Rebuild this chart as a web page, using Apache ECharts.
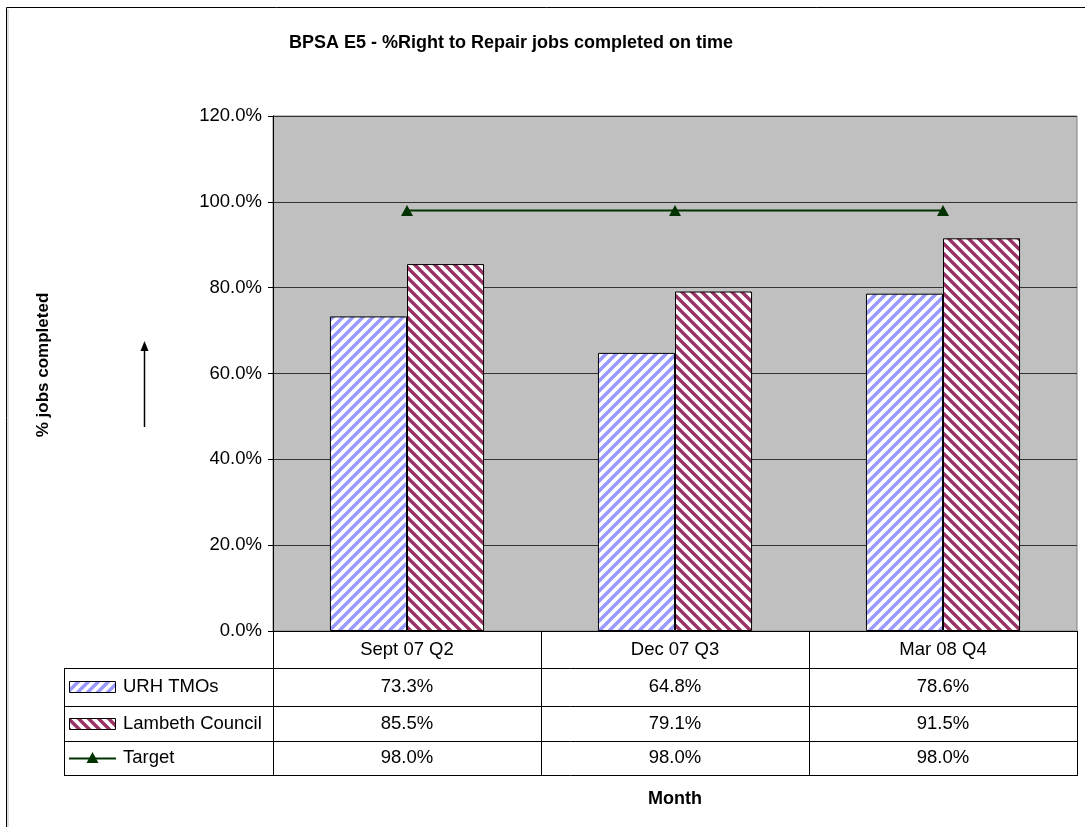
<!DOCTYPE html>
<html>
<head>
<meta charset="utf-8">
<script src="https://cdn.jsdelivr.net/npm/echarts@6/dist/echarts.min.js"></script>
<style>
html,body{margin:0;padding:0;background:#fff;}
#chart{width:1085px;height:827px;}
</style>
</head>
<body>
<div id="chart"></div>
<script>
// ---- data ----
const categories = ['Sept 07 Q2', 'Dec 07 Q3', 'Mar 08 Q4'];
const urhTMOs = [73.3, 64.8, 78.6];
const lambethCouncil = [85.5, 79.1, 91.5];
const target = [98.0, 98.0, 98.0];
const seriesNames = ['URH TMOs', 'Lambeth Council', 'Target'];
const yMin = 0, yMax = 120, yStep = 20;
const titleText = 'BPSA E5 - %Right to Repair jobs completed on time';
const yAxisTitle = '% jobs completed';
const xAxisTitle = 'Month';

// ---- layout ----
const W = 1085, H = 827;
const gLeft = 273, gTop = 116, gRight = 1077, gBottom = 631;
const tableLeft = 64;
const rowLines = [631, 668, 706, 741, 775];
const FONT = '"Liberation Sans", Arial, sans-serif';
const FS = 18.5;

function makePattern(color, dir) {
  const s = 10;
  const c = document.createElement('canvas');
  c.width = s; c.height = s;
  const ctx = c.getContext('2d');
  ctx.fillStyle = '#ffffff';
  ctx.fillRect(0, 0, s, s);
  ctx.strokeStyle = color;
  ctx.lineWidth = 3.4;
  ctx.beginPath();
  for (let k = -s; k <= s; k += s) {
    if (dir === 'up') {
      ctx.moveTo(k - 1, s + 1); ctx.lineTo(k + s + 1, -1);
    } else {
      ctx.moveTo(k - 1, -1); ctx.lineTo(k + s + 1, s + 1);
    }
  }
  ctx.stroke();
  return { image: c, repeat: 'repeat' };
}
const bluePat = makePattern('#9999ff', 'up');
const redPat = makePattern('#993366', 'down');
const greenDark = '#003300';

const chart = echarts.init(document.getElementById('chart'), null, { renderer: 'canvas' });
const fmt = v => v.toFixed(1) + '%';

const graphics = [];
const n = categories.length;
const colW = (gRight - gLeft) / n;
// outer frame
graphics.push({ type: 'polyline', shape: { points: [[6.5, H + 5], [6.5, 7.5], [W + 5, 7.5]] }, style: { stroke: '#000', lineWidth: 1, fill: null } });
graphics.push({ type: 'line', shape: { x1: 8, y1: 9, x2: 8, y2: H + 5 }, style: { stroke: '#bbb', lineWidth: 1 } });
// horizontal table lines
for (let i = 1; i < rowLines.length; i++) {
  graphics.push({ type: 'line', shape: { x1: tableLeft, y1: rowLines[i] + 0.5, x2: gRight + 0.5, y2: rowLines[i] + 0.5 }, style: { stroke: '#000', lineWidth: 1 } });
}
// vertical table lines
graphics.push({ type: 'line', shape: { x1: tableLeft + 0.5, y1: rowLines[1], x2: tableLeft + 0.5, y2: rowLines[4] + 1 }, style: { stroke: '#000', lineWidth: 1 } });
for (let j = 0; j <= n; j++) {
  const x = Math.round(gLeft + j * colW) + 0.5;
  graphics.push({ type: 'line', shape: { x1: x, y1: gBottom, x2: x, y2: rowLines[4] + 1 }, style: { stroke: '#000', lineWidth: 1 } });
}
// values in table
const rows = [urhTMOs, lambethCouncil, target];
rows.forEach((arr, r) => {
  const cy = (rowLines[r + 1] + rowLines[r + 2]) / 2;
  arr.forEach((v, j) => {
    graphics.push({ type: 'text', style: { text: fmt(v), x: gLeft + (j + 0.5) * colW, y: cy, align: 'center', verticalAlign: 'middle', font: FS + 'px ' + FONT, fill: '#000' } });
  });
  if (r < 2) {
    graphics.push({ type: 'rect', shape: { x: 69.5, y: Math.round(cy) - 5.5, width: 46, height: 11 }, style: { fill: r === 0 ? bluePat : redPat, stroke: '#000', lineWidth: 1 } });
  } else {
    graphics.push({ type: 'line', shape: { x1: 69, y1: Math.round(cy) + 0.5, x2: 116, y2: Math.round(cy) + 0.5 }, style: { stroke: greenDark, lineWidth: 2 } });
    graphics.push({ type: 'polygon', shape: { points: [[92.5, cy - 6], [98.5, cy + 5], [86.5, cy + 5]] }, style: { fill: greenDark } });
  }
  graphics.push({ type: 'text', style: { text: seriesNames[r], x: 123, y: cy, align: 'left', verticalAlign: 'middle', font: FS + 'px ' + FONT, fill: '#000' } });
});
// title
graphics.push({ type: 'text', style: { text: titleText, x: 511, y: 43, align: 'center', verticalAlign: 'middle', font: 'bold 18px ' + FONT, fill: '#000' } });
// x axis title
graphics.push({ type: 'text', style: { text: xAxisTitle, x: 675, y: 799, align: 'center', verticalAlign: 'middle', font: 'bold 18px ' + FONT, fill: '#000' } });
// y axis title
graphics.push({ type: 'text', rotation: Math.PI / 2, x: 43, y: 365, style: { text: yAxisTitle, x: 0, y: 0, align: 'center', verticalAlign: 'middle', font: 'bold 17px ' + FONT, fill: '#000' } });
// arrow
graphics.push({ type: 'line', shape: { x1: 144.5, y1: 427, x2: 144.5, y2: 348 }, style: { stroke: '#000', lineWidth: 1.5 } });
graphics.push({ type: 'polygon', shape: { points: [[144.5, 341], [148.5, 351], [140.5, 351]] }, style: { fill: '#000' } });

const option = {
  backgroundColor: '#ffffff',
  animation: false,
  textStyle: { fontFamily: FONT },
  grid: {
    left: gLeft, top: gTop, right: W - gRight, bottom: H - gBottom,
    show: true, backgroundColor: '#c0c0c0', borderColor: '#808080', borderWidth: 1,
    containLabel: false
  },
  xAxis: {
    type: 'category',
    data: categories,
    axisLine: { show: true, lineStyle: { color: '#000', width: 1 } },
    axisTick: { show: false },
    axisLabel: { margin: 9, fontSize: FS, color: '#000', fontFamily: FONT },
    splitLine: { show: false }
  },
  yAxis: {
    type: 'value',
    min: yMin, max: yMax, interval: yStep,
    axisLine: { show: true, lineStyle: { color: '#000', width: 1 } },
    axisTick: { show: true, inside: false, length: 5, lineStyle: { color: '#000' } },
    axisLabel: { margin: 11, fontSize: FS, color: '#000', fontFamily: FONT, formatter: v => v.toFixed(1) + '%' },
    splitLine: { show: true, lineStyle: { color: '#333', width: 1 } }
  },
  series: [
    {
      name: seriesNames[0], type: 'bar', data: urhTMOs,
      barGap: '0%', barCategoryGap: '42.5%',
      itemStyle: { color: bluePat, borderColor: '#000', borderWidth: 1 }
    },
    {
      name: seriesNames[1], type: 'bar', data: lambethCouncil,
      barGap: '0%', barCategoryGap: '42.5%',
      itemStyle: { color: redPat, borderColor: '#000', borderWidth: 1 }
    },
    {
      name: seriesNames[2], type: 'line', data: target,
      symbol: 'triangle', symbolSize: [12, 11],
      itemStyle: { color: greenDark },
      lineStyle: { color: greenDark, width: 2 },
      z: 5
    }
  ],
  graphic: graphics
};
chart.setOption(option);
</script>
</body>
</html>
